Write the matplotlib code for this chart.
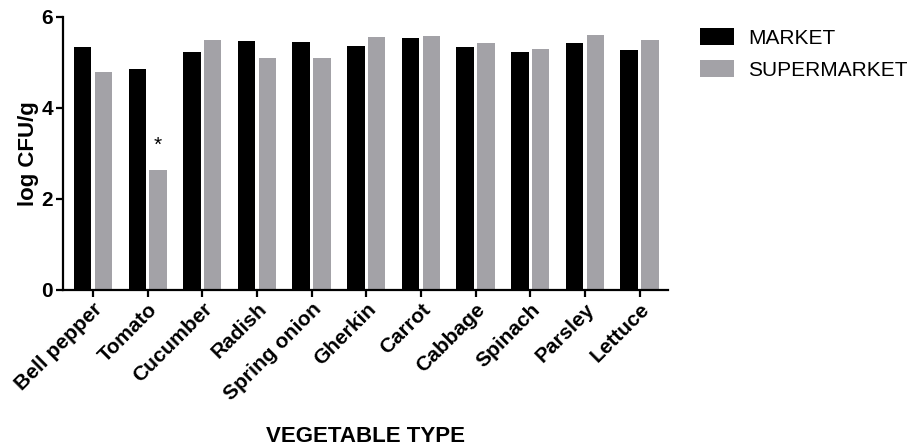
import numpy as np
import matplotlib
matplotlib.use("Agg")
import matplotlib.pyplot as plt

plt.rcParams['font.family'] = ['Liberation Sans', 'DejaVu Sans']

# Data
vegetables = ["Bell pepper", "Tomato", "Cucumber", "Radish", "Spring onion",
              "Gherkin", "Carrot", "Cabbage", "Spinach", "Parsley", "Lettuce"]
market = [5.34, 4.85, 5.22, 5.46, 5.43, 5.35, 5.52, 5.34, 5.23, 5.41, 5.27]
supermarket = [4.79, 2.63, 5.49, 5.09, 5.09, 5.55, 5.58, 5.42, 5.28, 5.59, 5.48]
yticks = [0, 2, 4, 6]

x = np.arange(len(vegetables))
w = 0.32
off = 0.19

fig = plt.figure(figsize=(9.12, 4.46), dpi=100)
ax = fig.add_axes([0.069, 0.350, 0.664, 0.613])

ax.bar(x - off, market, width=w, color="black", label="MARKET")
ax.bar(x + off, supermarket, width=w, color="#a3a2a7", label="SUPERMARKET")

# significance mark on tomato
ax.text(x[1] + off, supermarket[1] + 0.33, "*", ha="center", va="bottom", fontsize=15)

ax.set_xlim(-0.55, len(vegetables) - 0.47)
ax.set_ylim(0, 6)
ax.set_yticks(yticks)
ax.set_xticks(x)
ax.set_xticklabels(vegetables, rotation=45, ha="right", rotation_mode="anchor",
                   fontsize=15, fontweight="bold")
for lab in ax.get_yticklabels():
    lab.set_fontsize(15)
    lab.set_fontweight("bold")

ax.spines["top"].set_visible(False)
ax.spines["right"].set_visible(False)
ax.spines["left"].set_linewidth(1.6)
ax.spines["bottom"].set_linewidth(1.6)
ax.tick_params(width=1.6, length=5, pad=2)

ax.set_ylabel("log CFU/g", fontsize=16, fontweight="bold", labelpad=2)
ax.set_xlabel("VEGETABLE TYPE", fontsize=16, fontweight="bold", labelpad=16)

ax.legend(loc="upper left", bbox_to_anchor=(0.7675, 1 - 28 / 446),
          bbox_transform=fig.transFigure, frameon=False, borderpad=0,
          borderaxespad=0, fontsize=15, handlelength=1.63, handleheight=0.87,
          handletextpad=0.67, labelspacing=0.6)

fig.savefig("out.png", dpi=100)
